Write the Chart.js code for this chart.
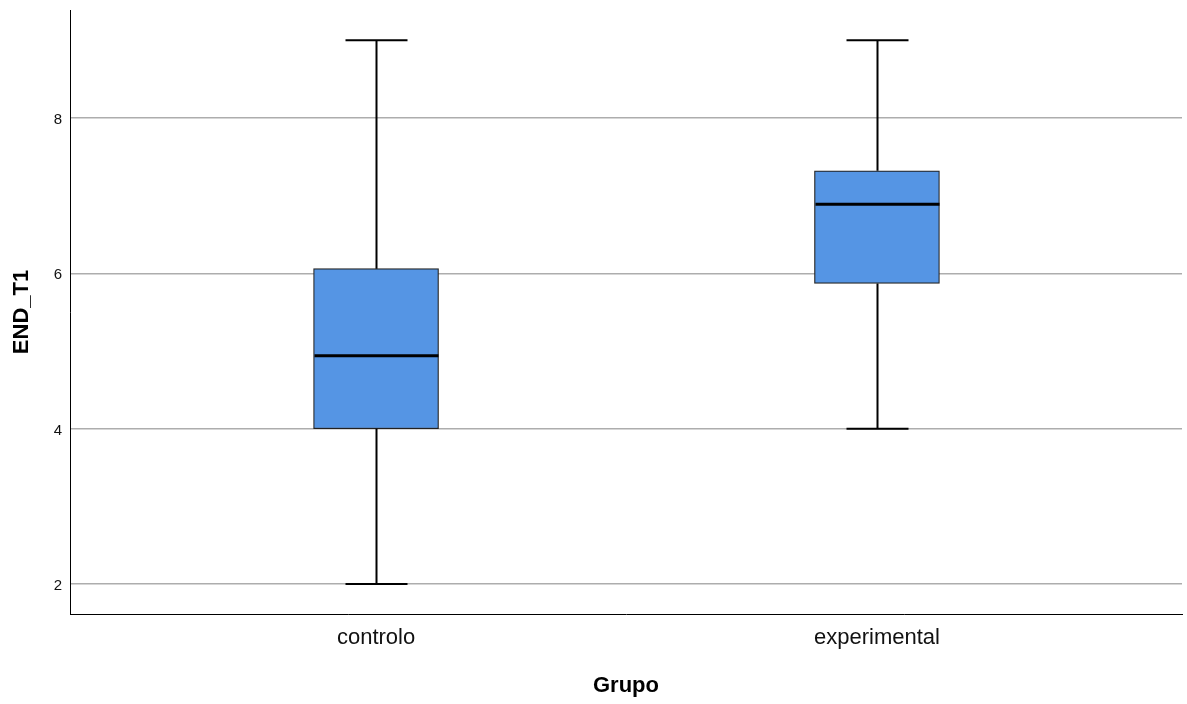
<!DOCTYPE html>
<html>
<head>
<meta charset="utf-8">
<script src="https://cdn.jsdelivr.net/npm/chart.js@4"></script>
<style>
  body { margin: 0; background: #fff; }
  canvas { display: block; }
</style>
</head>
<body>
<canvas id="boxChart" width="1187" height="704"></canvas>
<script>
// dados do boxplot END_T1 por grupo
const categories = ['controlo', 'experimental'];
const whiskerMin = [2, 4];
const q1 = [4, 5.87];
const median = [4.94, 6.89];
const q3 = [6.06, 7.32];
const whiskerMax = [9, 9];
const yTicks = [2, 4, 6, 8];

// whiskers + mediana desenhados por cima das caixas
const boxExtras = {
  id: 'boxExtras',
  afterDatasetsDraw(chart) {
    const ctx = chart.ctx;
    const x = chart.scales.x, y = chart.scales.y;
    const capHalf = 31, boxHalf = 62;
    ctx.save();
    ctx.strokeStyle = '#000';
    for (let i = 0; i < categories.length; i++) {
      const cx = Math.round(x.getPixelForValue(i)) + 0.5;
      ctx.lineWidth = 2;
      ctx.beginPath();
      ctx.moveTo(cx, y.getPixelForValue(whiskerMin[i]));
      ctx.lineTo(cx, y.getPixelForValue(q1[i]));
      ctx.moveTo(cx, y.getPixelForValue(q3[i]));
      ctx.lineTo(cx, y.getPixelForValue(whiskerMax[i]));
      ctx.moveTo(cx - capHalf, y.getPixelForValue(whiskerMin[i]));
      ctx.lineTo(cx + capHalf, y.getPixelForValue(whiskerMin[i]));
      ctx.moveTo(cx - capHalf, y.getPixelForValue(whiskerMax[i]));
      ctx.lineTo(cx + capHalf, y.getPixelForValue(whiskerMax[i]));
      ctx.stroke();
      ctx.lineWidth = 3;
      ctx.beginPath();
      ctx.moveTo(cx - boxHalf, y.getPixelForValue(median[i]));
      ctx.lineTo(cx + boxHalf, y.getPixelForValue(median[i]));
      ctx.stroke();
    }
    ctx.restore();
  }
};

const ctx = document.getElementById('boxChart').getContext('2d');
new Chart(ctx, {
  type: 'bar',
  data: {
    datasets: [{
      label: 'END_T1',
      data: categories.map((c, i) => ({x: i, y: [q1[i], q3[i]]})),
      backgroundColor: '#5595e4',
      borderColor: '#222',
      borderWidth: 1.2,
      borderSkipped: false,
      barThickness: 125
    }]
  },
  options: {
    responsive: false,
    animation: false,
    layout: {padding: {top: 10, right: 5, left: 0, bottom: 0}},
    plugins: {legend: {display: false}, tooltip: {enabled: false}},
    scales: {
      x: {
        type: 'linear',
        offset: false,
        min: -0.611,
        max: 1.609,
        afterBuildTicks: s => { s.ticks = categories.map((c, i) => ({value: i})); },
        afterFit: s => { s.height = 90; s.paddingLeft = 0; s.paddingRight = 0; },
        grid: {display: false, drawTicks: false, offset: false},
        border: {display: true, color: '#000', width: 1},
        ticks: {
          padding: 11,
          color: '#111',
          font: {family: 'Liberation Sans, Arial, sans-serif', size: 22},
          callback: v => categories[v]
        },
        title: {
          display: true,
          text: 'Grupo',
          color: '#000',
          padding: {top: 0, bottom: 5},
          font: {family: 'Liberation Sans, Arial, sans-serif', size: 22, weight: 'bold'}
        }
      },
      y: {
        min: 1.614,
        max: 9.39,
        afterBuildTicks: s => { s.ticks = yTicks.map(v => ({value: v})); },
        afterFit: s => { s.width = 70; s.paddingTop = 0; s.paddingBottom = 0; },
        grid: {color: '#adadad', lineWidth: 1.5, drawTicks: false},
        border: {display: true, color: '#000', width: 1},
        ticks: {
          padding: 8,
          labelOffset: 2,
          color: '#111',
          font: {family: 'Liberation Sans, Arial, sans-serif', size: 15}
        },
        title: {
          display: true,
          text: 'END_T1',
          color: '#000',
          padding: {top: 9, bottom: 0},
          font: {family: 'Liberation Sans, Arial, sans-serif', size: 22, weight: 'bold'}
        }
      }
    }
  },
  plugins: [boxExtras]
});
</script>
</body>
</html>
